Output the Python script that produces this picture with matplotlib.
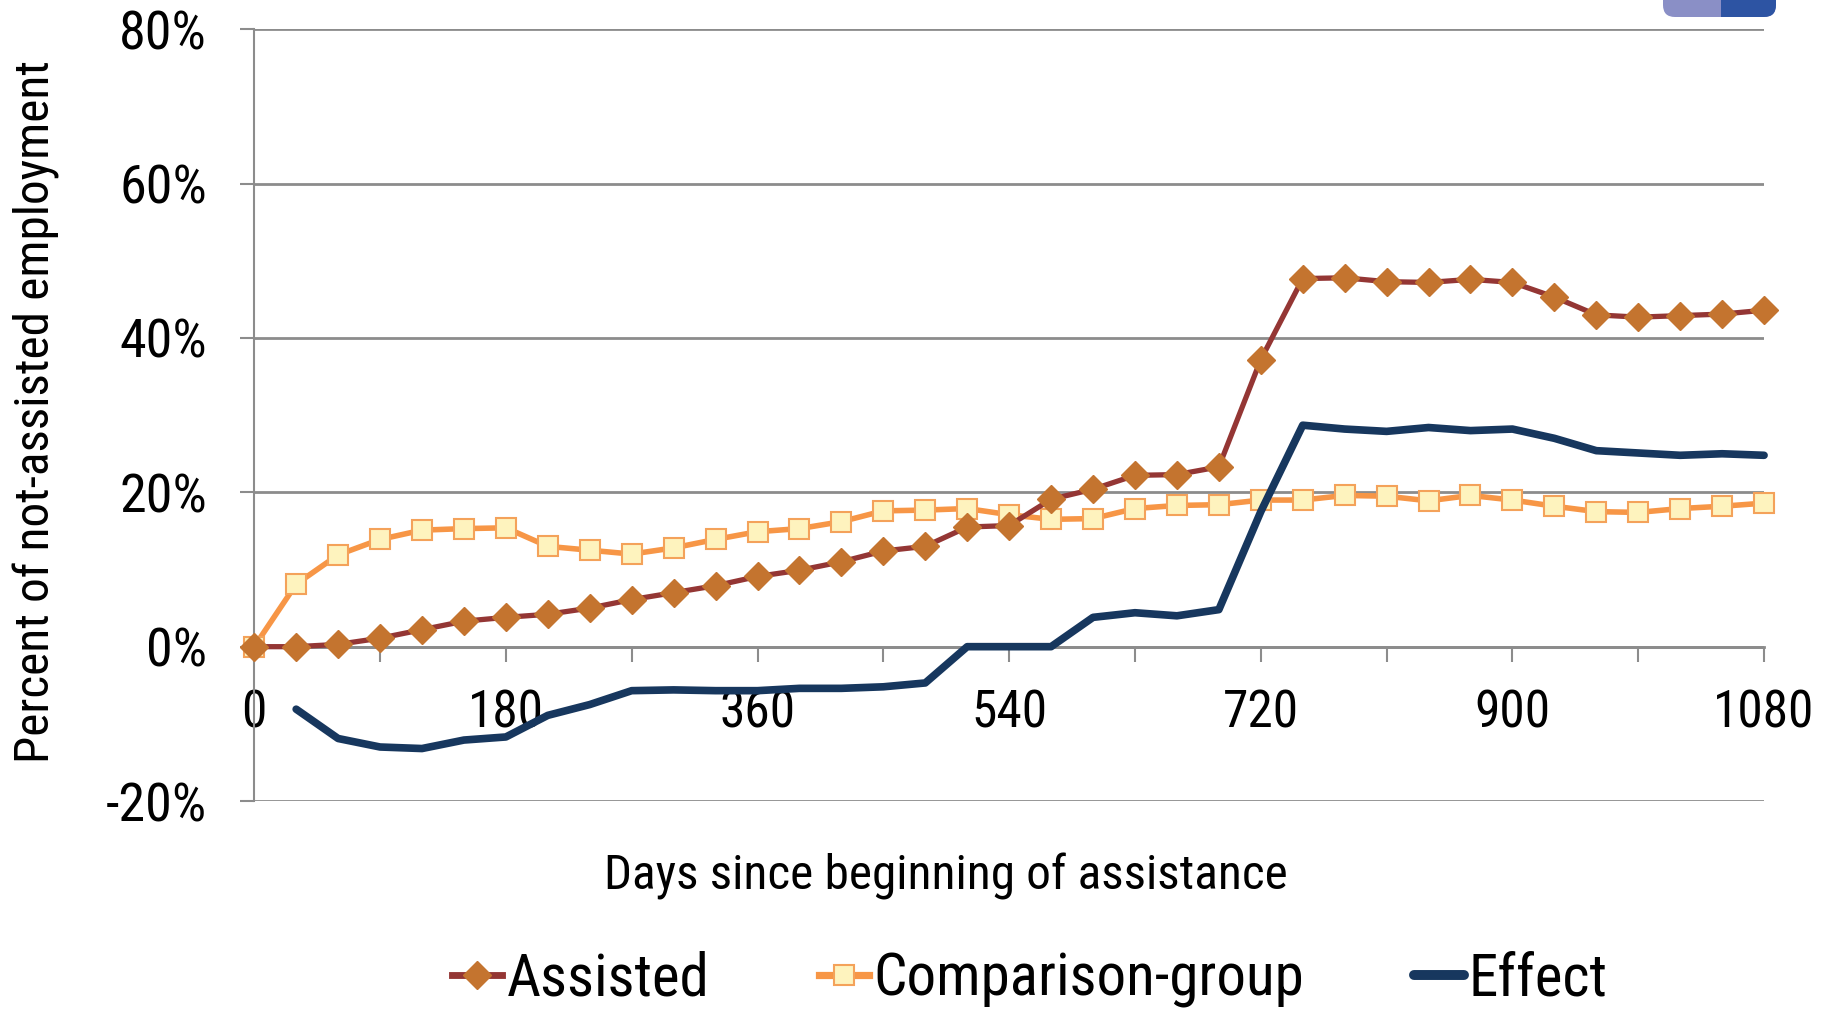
import numpy as np
import matplotlib
matplotlib.use("Agg")
import matplotlib.pyplot as plt
from matplotlib.patches import FancyBboxPatch, Rectangle
from matplotlib.ticker import MultipleLocator, FuncFormatter

plt.rcParams["font.family"] = ["Roboto Condensed", "DejaVu Sans"]

# ── data ──────────────────────────────────────────────────────
days = np.arange(0, 1081, 30)

assisted = [0.0, 0.0, 0.3, 1.1, 2.2, 3.3, 3.8, 4.2, 5.0, 6.1, 7.0, 7.9, 9.1,
            9.9, 11.0, 12.4, 13.0, 15.5, 15.7, 19.1, 20.4, 22.2, 22.3, 23.3,
            37.2, 47.7, 47.8, 47.3, 47.2, 47.6, 47.2, 45.3, 43.0, 42.7, 42.9,
            43.1, 43.6]

comparison = [0.0, 8.1, 11.9, 13.9, 15.1, 15.3, 15.4, 13.0, 12.5, 12.0, 12.8,
              13.9, 14.9, 15.3, 16.2, 17.6, 17.7, 17.9, 17.1, 16.5, 16.6, 17.9,
              18.3, 18.4, 19.0, 19.0, 19.6, 19.5, 18.9, 19.6, 19.0, 18.2, 17.5,
              17.4, 17.9, 18.2, 18.6]

# effect series starts at day 30
effect_days = days[1:]
effect = [-8.1, -11.9, -13.0, -13.2, -12.1, -11.7, -8.9, -7.5, -5.7, -5.6,
          -5.7, -5.7, -5.4, -5.4, -5.2, -4.7, 0.0, 0.0, 0.0, 3.8, 4.4, 4.0,
          4.8, 17.5, 28.7, 28.2, 27.9, 28.4, 28.0, 28.2, 27.0, 25.4, 25.1,
          24.8, 25.0, 24.8]

GRID = "#8C8C8C"

fig = plt.figure(figsize=(18.29, 10.11), dpi=100)
ax = fig.add_axes([0.139, 0.2077, 0.8255, 0.7633])

ax.plot(days, assisted, color="#943634", linewidth=3.8, marker="D",
        markersize=14.5, markerfacecolor="#C4742F", markeredgecolor="#C4742F",
        label="Assisted", clip_on=False, zorder=4)
ax.plot(days, comparison, color="#F79646", linewidth=4.0, marker="s",
        markersize=15, markerfacecolor="#FEF3BE", markeredgecolor="#F4A25A",
        markeredgewidth=1.5, label="Comparison-group", clip_on=False, zorder=3)
ax.plot(effect_days, effect, color="#17375E", linewidth=5.5,
        label="Effect", clip_on=False, zorder=5, solid_capstyle="round")

ax.set_xlim(0, 1080)
ax.set_ylim(-20, 80)

# y axis
ax.yaxis.set_major_locator(MultipleLocator(20))
ax.yaxis.set_major_formatter(FuncFormatter(lambda v, p: f"{v:.0f}%"))
ax.grid(axis="y", color=GRID, linewidth=2)
ax.set_axisbelow(True)

# x axis sits on the 0% line
ax.spines["bottom"].set_position(("data", 0))
for s in ["top", "right"]:
    ax.spines[s].set_visible(False)
ax.spines["bottom"].set_color(GRID)
ax.spines["bottom"].set_linewidth(2)
ax.spines["left"].set_color(GRID)
ax.spines["left"].set_linewidth(1.5)

ax.xaxis.set_major_locator(MultipleLocator(180))
ax.xaxis.set_minor_locator(MultipleLocator(90))
ax.tick_params(axis="x", which="both", direction="out", length=11,
               width=1.5, color=GRID, pad=19, labelsize=37)
ax.tick_params(axis="y", direction="out", length=10, width=1.5,
               color=GRID, pad=24, labelsize=39)

fig.text(0.020, 0.593, "Percent of not-assisted employment", rotation=90,
         ha="center", va="center", fontsize=35.5)
fig.text(0.517, 0.133, "Days since beginning of assistance",
         ha="center", va="center", fontsize=35.5)

leg = fig.legend(loc="center", bbox_to_anchor=(0.563, 0.031), ncol=3,
                 frameon=False, fontsize=42.5, handlelength=0.85,
                 handletextpad=0.08, columnspacing=1.85, borderpad=0)
for h in leg.legend_handles:
    h.set_linewidth(h.get_linewidth() * 1.3)

# decorative tab cut off at the top right
tr = fig.dpi_scale_trans
fig.patches.append(FancyBboxPatch((16.63, 9.94), 1.13, 0.4,
                                  boxstyle="round,pad=0,rounding_size=0.12",
                                  transform=tr, facecolor="#8A8FC6",
                                  edgecolor="none"))
fig.patches.append(FancyBboxPatch((17.21, 9.94), 0.55, 0.4,
                                  boxstyle="round,pad=0,rounding_size=0.12",
                                  transform=tr, facecolor="#2D54A3",
                                  edgecolor="none"))
fig.patches.append(Rectangle((17.21, 9.94), 0.2, 0.4, transform=tr,
                             facecolor="#2D54A3", edgecolor="none"))

fig.savefig("out.png", dpi=100)
